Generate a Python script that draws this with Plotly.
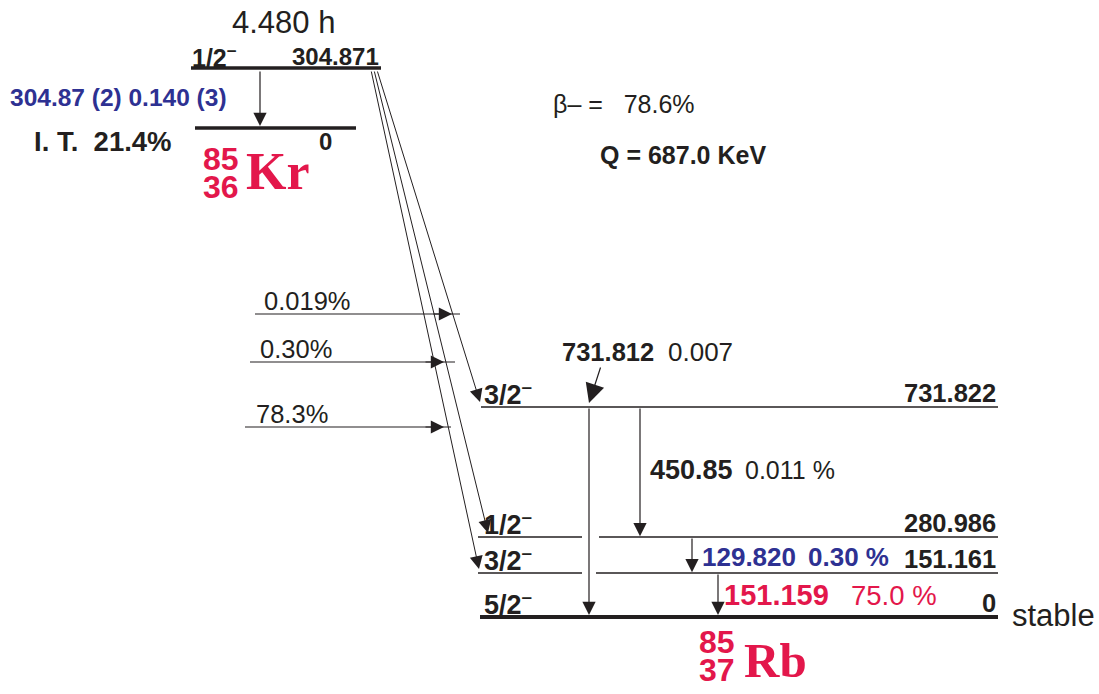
import plotly.graph_objects as go

# ---------------- data ----------------
half_life = "4.480 h"
kr_spins = ["1/2<sup>–</sup>", ""]
kr_energies = ["304.871", "0"]
it_gamma = "304.87 (2) 0.140 (3)"
it_branch = "I. T.  21.4%"
beta_total = "β– =   78.6%"
q_value = "Q = 687.0 KeV"
kr_nuclide = ["85", "36", "Kr"]
rb_nuclide = ["85", "37", "Rb"]

beta_branches = ["0.019%", "0.30%", "78.3%"]

rb_spins = ["3/2<sup>–</sup>", "1/2<sup>–</sup>", "3/2<sup>–</sup>", "5/2<sup>–</sup>"]
rb_energies = ["731.822", "280.986", "151.161", "0"]

gamma_energies = ["731.812", "450.85", "129.820", "151.159"]
gamma_intens = ["0.007", "0.011 %", "0.30 %", "75.0 %"]

# ---------------- layout (pixel positions of the schematic) ----------------
kr_level_y = [68, 128]
kr_level_x = [(191, 381), (195, 356)]
rb_level_y = [407, 537, 573, 617]
rb_level_w = [1.6, 1.6, 1.6, 4]
rb_level_segments = [[(481, 998)], [(478, 582), (599, 998)], [(478, 582), (596, 998)], [(480, 998)]]
feed_y = [314, 362, 427]
feed_x = [(255, 460), (250, 455), (245, 451)]
feed_tip = [452, 444, 444]
feed_label_x = [262, 258, 254]
diag_start = [(377, 70), (374, 70), (371, 70)]
diag_tip = [(480, 402), (488, 533), (479, 569)]
gamma_x = [589, 640, 692, 718]
gamma_from = [0, 0, 1, 2]
gamma_to = [3, 1, 2, 3]

BLACK = "#231f20"
RED = "#e3174b"
BLUE = "#2e3192"
SANS = "Liberation Sans, Arial, Helvetica, sans-serif"
SERIF = "Liberation Serif, Times New Roman, serif"

fig = go.Figure()
ann = []


def line(x0, y0, x1, y1, w=1.2, c=BLACK):
    fig.add_trace(go.Scatter(x=[x0, x1], y=[y0, y1], mode="lines",
                             line=dict(color=c, width=w), hoverinfo="skip",
                             showlegend=False))


def arrow(x0, y0, x1, y1, w=1.2, size=2.2):
    ann.append(dict(x=x1, y=y1, ax=x0, ay=y0, xref="x", yref="y", axref="x",
                    ayref="y", showarrow=True, arrowhead=2, arrowsize=size,
                    arrowwidth=w, arrowcolor=BLACK, text="", standoff=0))


def text(x, y, s, size, anchor="left", bold=False, color=BLACK, fam=SANS, h=None):
    d = dict(x=x, y=y, xref="x", yref="y", text=("<b>%s</b>" % s) if bold else s,
             showarrow=False, xanchor=anchor, yanchor="middle",
             font=dict(family=fam, size=size, color=color))
    if h is not None:
        d["height"] = h
    ann.append(d)


# Kr levels
for (x0, x1), y in zip(kr_level_x, kr_level_y):
    line(x0, y, x1, y, w=3.5)
text(283, 22, half_life, 31, anchor="center")
text(190, 56, kr_spins[0], 25, bold=True)
text(381, 56, kr_energies[0], 24, anchor="right", bold=True)
text(334, 141, kr_energies[1], 24, anchor="right", bold=True)
arrow(260, 70, 260, 126, w=1.2, size=2.2)
text(8, 97, it_gamma, 24.5, bold=True, color=BLUE)
text(32, 141, it_branch, 27.5, bold=True)
text(221, 158, kr_nuclide[0], 32, anchor="center", bold=True, color=RED, h=27)
text(221, 186, kr_nuclide[1], 32, anchor="center", bold=True, color=RED, h=27)
text(244, 171, kr_nuclide[2], 52, bold=True, color=RED, fam=SERIF)

text(551, 104, beta_total, 25)
text(598, 155, q_value, 25, bold=True)

# beta feeding arrows
for lab, y, (x0, x1), tip, lx in zip(beta_branches, feed_y, feed_x, feed_tip, feed_label_x):
    line(x0, y, x1, y, w=1.2)
    arrow(tip - 20, y, tip, y, w=1.2, size=2.2)
    text(lx, y - 13, lab, 25.5)

# diagonal beta lines
for (x0, y0), (x1, y1) in zip(diag_start, diag_tip):
    arrow(x0, y0, x1, y1, w=1.0, size=2.6)

# Rb levels
for segs, y, w in zip(rb_level_segments, rb_level_y, rb_level_w):
    for x0, x1 in segs:
        line(x0, y, x1, y, w=w)
for sp, en, y in zip(rb_spins, rb_energies, rb_level_y):
    text(482, y - 14, sp, 27, bold=True)
    text(998, y - 14, en, 25.5, anchor="right", bold=True)
text(1010, 615, "stable", 31)

# gamma transitions
for gx, i0, i1 in zip(gamma_x, gamma_from, gamma_to):
    y0 = rb_level_y[i0]
    y1 = rb_level_y[i1] - (2 if i1 == 3 else 0.8)
    arrow(gx, y0, gx, y1, w=1.2, size=2.2)

arrow(601, 366, 589, 403, w=1.2, size=3.2)
text(560, 352, gamma_energies[0], 25.5, bold=True)
text(666, 352, gamma_intens[0], 26)
text(648, 470, gamma_energies[1], 27, bold=True)
text(743, 470, gamma_intens[1], 25)
text(700, 557, gamma_energies[2], 26, bold=True, color=BLUE)
text(806, 557, gamma_intens[2], 26, bold=True, color=BLUE)
text(722, 595, gamma_energies[3], 29, bold=True, color=RED)
text(849, 595, gamma_intens[3], 27.5, color=RED)

text(717, 641, rb_nuclide[0], 32, anchor="center", bold=True, color=RED, h=27)
text(717, 669, rb_nuclide[1], 32, anchor="center", bold=True, color=RED, h=27)
text(742, 660, rb_nuclide[2], 49, bold=True, color=RED, fam=SERIF)

fig.update_layout(
    width=1099, height=694,
    margin=dict(l=0, r=0, t=0, b=0),
    paper_bgcolor="white", plot_bgcolor="white",
    xaxis=dict(range=[0, 1099], visible=False, fixedrange=True),
    yaxis=dict(range=[694, 0], visible=False, fixedrange=True),
    annotations=ann,
    showlegend=False,
)
fig.write_html("out.html", config={"displayModeBar": False},
               post_script="document.body.style.margin='0px';document.body.style.overflow='hidden';")
